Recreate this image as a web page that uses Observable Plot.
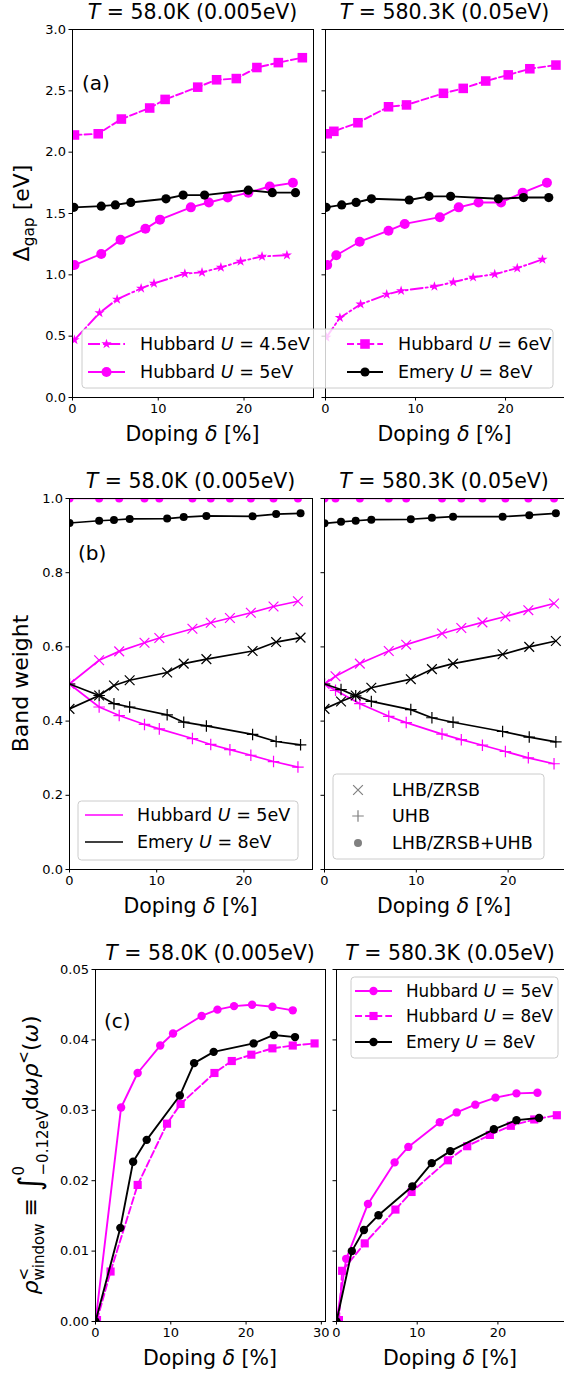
<!DOCTYPE html>
<html><head><meta charset="utf-8">
<script src="https://cdn.jsdelivr.net/npm/d3@7"></script>
<script src="https://cdn.jsdelivr.net/npm/@observablehq/plot@0.6"></script>
<style>
html,body{margin:0;padding:0;background:#fff;overflow:hidden}
#fig{position:relative;width:564px;height:1373px;overflow:hidden;font-family:"DejaVu Sans",sans-serif;background:#fff}
#fig svg{position:absolute;overflow:visible}
#fig text{white-space:pre}
</style></head><body><div id="fig"></div>
<script>
// ---------- DATA ----------
// (a) Gap vs doping, T = 58.0K : [doping %, gap eV]
const gap58_U45 = [[0.23,0.47],[3.15,0.69],[5.2,0.80],[8.0,0.89],[9.5,0.93],[13.1,1.01],[15.1,1.02],[17.3,1.06],[19.6,1.11],[22.1,1.15],[25.0,1.16]];
const gap58_U5  = [[0.23,1.08],[3.35,1.17],[5.6,1.285],[8.5,1.375],[10.2,1.45],[13.8,1.55],[15.9,1.59],[18.1,1.63],[20.5,1.67],[23.0,1.72],[25.7,1.75]];
const gap58_U6  = [[0.23,2.14],[3.0,2.15],[5.7,2.27],[9.0,2.36],[10.8,2.43],[14.6,2.53],[16.8,2.59],[19.1,2.60],[21.5,2.69],[24.0,2.73],[26.8,2.77]];
const gap58_E8  = [[0.16,1.55],[3.35,1.56],[5.0,1.57],[6.8,1.59],[10.9,1.62],[12.9,1.65],[15.4,1.65],[20.5,1.69],[23.3,1.67],[26.0,1.67]];
// (a) T = 580.3K
const gap580_U45 = [[0.1,0.49],[1.6,0.65],[3.9,0.76],[6.8,0.84],[8.4,0.87],[12.1,0.905],[14.2,0.94],[16.4,0.98],[18.8,1.005],[21.3,1.055],[24.1,1.125]];
const gap580_U5  = [[0.19,1.08],[1.2,1.16],[3.8,1.27],[7.0,1.36],[8.8,1.415],[12.7,1.47],[14.8,1.55],[17.0,1.59],[19.5,1.59],[21.9,1.67],[24.6,1.75]];
const gap580_U6  = [[0.19,2.15],[0.93,2.17],[3.6,2.24],[7.0,2.37],[9.0,2.385],[13.1,2.48],[15.3,2.52],[17.8,2.58],[20.3,2.63],[22.7,2.68],[25.6,2.71]];
const gap580_E8  = [[0.07,1.55],[1.8,1.57],[3.4,1.59],[5.1,1.62],[9.3,1.61],[11.5,1.64],[13.9,1.64],[19.2,1.62],[22.0,1.63],[24.8,1.63]];

// (b) Band weights, T = 58.0K
const dopH58 = [0,3.4,5.7,8.6,10.3,14.1,16.2,18.4,20.8,23.4,26.2];
const lhbH58 = [0.50,0.564,0.588,0.611,0.624,0.649,0.665,0.678,0.692,0.709,0.723];
const uhbH58 = [0.50,0.438,0.415,0.391,0.379,0.353,0.337,0.323,0.308,0.291,0.276];
const totH58 = [1,1,1,1,1,1,1,1,1,1,1];
const dopE58 = [0,3.4,5.1,6.9,11.2,13.1,15.7,21.0,23.7,26.5];
const lhbE58 = [0.433,0.469,0.496,0.510,0.531,0.555,0.567,0.589,0.613,0.625];
const uhbE58 = [0.50,0.469,0.447,0.438,0.417,0.397,0.387,0.364,0.345,0.336];
const totE58 = [0.934,0.940,0.942,0.945,0.946,0.950,0.953,0.952,0.958,0.960];
// (b) T = 580.3K
const dopH580 = [0,1.2,3.85,7.0,8.9,12.8,14.9,17.2,19.7,22.2,25.0];
const lhbH580 = [0.50,0.521,0.555,0.589,0.606,0.636,0.651,0.666,0.682,0.699,0.717];
const uhbH580 = [0.50,0.483,0.447,0.413,0.396,0.365,0.350,0.335,0.318,0.301,0.285];
const totH580 = [1,1,1,1,1,1,1,1,1,1,1];
const dopE580 = [0,1.8,3.4,5.1,9.4,11.7,14.0,19.4,22.3,25.2];
const lhbE580 = [0.433,0.453,0.469,0.490,0.513,0.540,0.555,0.580,0.600,0.616];
const uhbE580 = [0.50,0.485,0.468,0.453,0.431,0.409,0.397,0.372,0.357,0.344];
const totE580 = [0.933,0.937,0.940,0.943,0.944,0.948,0.951,0.951,0.955,0.960];

// (c) rho window, T = 58.0K
const rho58_H5 = [[0,0],[3.4,0.0304],[5.6,0.0353],[8.6,0.0392],[10.3,0.0409],[14.1,0.0434],[16.2,0.0443],[18.4,0.0448],[20.8,0.0450],[23.5,0.0447],[26.2,0.0442]];
const rho58_H8 = [[0.2,0.0002],[2.0,0.0071],[5.6,0.0194],[9.5,0.0281],[11.3,0.0309],[15.8,0.0353],[18.1,0.0370],[20.7,0.0379],[23.5,0.0388],[26.2,0.0392],[29.1,0.0395]];
const rho58_E8 = [[0,0],[3.3,0.0133],[5.0,0.0227],[6.8,0.0258],[11.2,0.0321],[13.1,0.0367],[15.7,0.0383],[21.0,0.0395],[23.7,0.0407],[26.5,0.0404]];
// (c) T = 580.3K
const rho580_H5 = [[0,0],[1.2,0.0089],[3.9,0.0167],[7.2,0.0226],[8.9,0.0248],[12.8,0.0283],[14.9,0.0297],[17.2,0.0308],[19.7,0.0318],[22.3,0.0324],[24.9,0.0325]];
const rho580_H8 = [[0.3,0.0002],[0.7,0.0072],[3.5,0.0111],[7.3,0.0159],[9.3,0.0184],[13.8,0.0229],[16.2,0.0249],[19.0,0.0265],[21.6,0.0278],[24.5,0.0287],[27.3,0.0293]];
const rho580_E8 = [[0,0],[1.9,0.0100],[3.4,0.0130],[5.2,0.0151],[9.4,0.0192],[11.8,0.0225],[14.1,0.0242],[19.5,0.0273],[22.3,0.0286],[25.1,0.0289]];

// tick values / labels
const xTicks = [0,10,20];
const xTicksC = [0,10,20,30];
const yTicksA = [0,0.5,1,1.5,2,2.5,3];
const yTicksB = [0,0.2,0.4,0.6,0.8,1.0];
const yTicksC = [0,0.01,0.02,0.03,0.04,0.05];
const titles = ["58.0K (0.005eV)", "580.3K (0.05eV)"];

// ---------- STYLE ----------
const MAG = "#ff00ff", BLK = "#000000";
const DASH = "7,3.1", DASHDOT = "12,3.1,2,3.1";
const X = d => d[0], Y = d => d[1];
const fig = d3.select("#fig");

function series(data, o) {
  const out = [Plot.line(data, {x: X, y: Y, stroke: o.color, strokeWidth: o.lw ?? 1.9, strokeDasharray: o.dash, clip: true})];
  if (o.symbol) {
    const stroked = o.symbol === "times" || o.symbol === "plus";
    out.push(Plot.dot(data, stroked
      ? {x: X, y: Y, symbol: o.symbol, r: o.r, stroke: o.color, strokeWidth: 1.2, clip: true}
      : {x: X, y: Y, symbol: o.symbol, r: o.r, fill: o.color, clip: true}));
  }
  return out;
}

function panel(p) {
  const chart = Plot.plot({
    width: p.width, height: p.height,
    marginLeft: p.ml, marginRight: p.mr, marginTop: p.mt, marginBottom: p.mb,
    style: {fontFamily: "DejaVu Sans", fontSize: "13px", color: "black", background: "transparent", overflow: "visible"},
    x: {domain: [0, p.xmax]},
    y: {domain: p.ydom},
    marks: [
      ...p.marks,
      Plot.frame({stroke: "black", strokeWidth: 1}),
      Plot.axisX({ticks: p.xticks, tickSize: 3.5, tickPadding: 3, label: null, tickFormat: d => String(d)}),
      Plot.axisY({ticks: p.yticks, tickSize: 3.5, tickPadding: 3, label: null, tickFormat: p.showY ? d3.format(p.fmt) : () => ""})
    ]
  });
  chart.style.left = p.left + "px";
  chart.style.top = p.top + "px";
  fig.node().appendChild(chart);
}

// ---------- ROW (a) ----------
function gapMarks(U45, U5, U6, E8) {
  return [
    ...series(U45, {color: MAG, dash: DASHDOT, symbol: "star", r: 3.2}),
    ...series(U5, {color: MAG, symbol: "circle", r: 5}),
    ...series(U6, {color: MAG, dash: DASH, symbol: "square", r: 5.4}),
    ...series(E8, {color: BLK, symbol: "circle", r: 4.6})
  ];
}
panel({left: 0, top: 0, width: 318, height: 430, ml: 72, mr: 5, mt: 29, mb: 33, xmax: 28.1, ydom: [0,3],
  xticks: xTicks, yticks: yTicksA, showY: true, fmt: ".1f", marks: gapMarks(gap58_U45, gap58_U5, gap58_U6, gap58_E8)});
panel({left: 318, top: 0, width: 248, height: 430, ml: 7, mr: 2, mt: 29, mb: 33, xmax: 26.55, ydom: [0,3],
  xticks: xTicks, yticks: yTicksA, showY: false, marks: gapMarks(gap580_U45, gap580_U5, gap580_U6, gap580_E8)});

// ---------- ROW (b) ----------
function weightMarks(dH, lH, uH, tH, dE, lE, uE, tE) {
  const hub = dH.map((x, i) => ({x, l: lH[i], u: uH[i], t: tH[i]}));
  const em = dE.map((x, i) => ({x, l: lE[i], u: uE[i], t: tE[i]}));
  const m = [];
  for (const [tab, c] of [[hub, MAG], [em, BLK]]) {
    for (const [key, sym, r] of [["l", "times", 4.5], ["u", "plus", 3.8], ["t", "circle", 4]]) {
      m.push(...series(tab.map(d => [d.x, d[key]]), {color: c, symbol: sym, r, lw: 1.7}));
    }
  }
  return m;
}
panel({left: 0, top: 470, width: 317, height: 430, ml: 69, mr: 5, mt: 28, mb: 31, xmax: 27.87, ydom: [0,1],
  xticks: xTicks, yticks: yTicksB, showY: true, fmt: ".1f",
  marks: weightMarks(dopH58, lhbH58, uhbH58, totH58, dopE58, lhbE58, uhbE58, totE58)});
panel({left: 317, top: 470, width: 249, height: 430, ml: 7, mr: 2, mt: 28, mb: 31, xmax: 26.14, ydom: [0,1],
  xticks: xTicks, yticks: yTicksB, showY: false,
  marks: weightMarks(dopH580, lhbH580, uhbH580, totH580, dopE580, lhbE580, uhbE580, totE580)});

// ---------- ROW (c) ----------
function rhoMarks(H5, H8, E8) {
  return [
    ...series(H5, {color: MAG, symbol: "circle", r: 4.2}),
    ...series(H8, {color: MAG, dash: DASH, symbol: "square", r: 4.6}),
    ...series(E8, {color: BLK, symbol: "circle", r: 4.2})
  ];
}
panel({left: 0, top: 940, width: 330, height: 420, ml: 95, mr: 5, mt: 29, mb: 39, xmax: 30.55, ydom: [0,0.05],
  xticks: xTicksC, yticks: yTicksC, showY: true, fmt: ".2f", marks: rhoMarks(rho58_H5, rho58_H8, rho58_E8)});
panel({left: 330, top: 940, width: 236, height: 420, ml: 6, mr: 2, mt: 29, mb: 39, xmax: 28.25, ydom: [0,0.05],
  xticks: xTicks, yticks: yTicksC, showY: false, marks: rhoMarks(rho580_H5, rho580_H8, rho580_E8)});

// ---------- OVERLAY: titles, labels, legends ----------
const ov = fig.append("svg").attr("width", 564).attr("height", 1373)
  .style("left", "0px").style("top", "0px").attr("font-family", "DejaVu Sans");

function txt(x, y, parts, o = {}) {
  const t = ov.append("text")
    .attr("transform", `translate(${x},${y}) rotate(${o.rot || 0})`)
    .attr("font-size", o.size || 20).attr("text-anchor", o.anchor || "start").attr("fill", "black");
  if (o.dy) t.attr("dy", o.dy);
  for (const p of parts) {
    const s = t.append("tspan").text(p.t);
    if (p.i) s.attr("font-style", "italic");
    if (p.fs) s.attr("font-size", p.fs);
    if (p.dx) s.attr("dx", p.dx);
    if (p.dy) s.attr("dy", p.dy);
  }
  return t;
}

// titles
const titleY = [18.5, 488, 959.5];
const titleX = [[192.5, 444.5], [190.5, 444], [210, 450]];
titleY.forEach((y, r) => titleX[r].forEach((x, c) =>
  txt(x, y, [{t: "T", i: true}, {t: " = " + titles[c]}], {anchor: "middle", size: 20.5})));

// x labels
const xlabY = [441, 913, 1365];
xlabY.forEach((y, r) => titleX[r].forEach(x =>
  txt(x, y, [{t: "Doping "}, {t: "δ", i: true}, {t: " [%]"}], {anchor: "middle", size: 20.5})));

// y labels
txt(28.5, 213, [{t: "Δ"}, {t: "gap", fs: 15.4, dy: 5}, {t: " [eV]", dy: -5}], {anchor: "middle", size: 22, rot: -90});
txt(28, 683.5, [{t: "Band weight"}], {anchor: "middle", size: 22, rot: -90});
txt(38, 1155, [
  {t: "ρ", i: true}, {t: "<", fs: 15, dy: -9}, {t: "window", fs: 15, dx: -12.5, dy: 15},
  {t: " ≡ ", dy: -6}, {t: "∫", fs: 30, dy: 2},
  {t: "0", fs: 15, dy: -16}, {t: "−0.12eV", fs: 15, dx: -9.5, dy: 24},
  {t: "d", dy: -10}, {t: "ωρ", i: true}, {t: "<", fs: 15, dy: -9}, {t: "(", dy: 9}, {t: "ω", i: true}, {t: ")"}
], {anchor: "middle", size: 22, rot: -90});

// panel letters
txt(82, 90, [{t: "(a)"}], {size: 20});
txt(78, 560, [{t: "(b)"}], {size: 20});
txt(104, 1028, [{t: "(c)"}], {size: 20});

// legends
function box(x0, y0, x1, y1) {
  ov.append("rect").attr("x", x0).attr("y", y0).attr("width", x1 - x0).attr("height", y1 - y0)
    .attr("rx", 3.5).attr("fill", "white").attr("fill-opacity", 0.8).attr("stroke", "#cccccc").attr("stroke-width", 1);
}
const symMap = {circle: d3.symbolCircle, square: d3.symbolSquare, star: d3.symbolStar, times: d3.symbolTimes, plus: d3.symbolPlus};
function marker(x, y, sym, r, color) {
  const stroked = sym === "times" || sym === "plus";
  ov.append("path").attr("transform", `translate(${x},${y})`)
    .attr("d", d3.symbol(symMap[sym], Math.PI * r * r)())
    .attr("fill", stroked ? "none" : color).attr("stroke", stroked ? color : "none").attr("stroke-width", 1.2);
}
function handle(x0, x1, y, color, dash, sym, r, lw = 1.9) {
  const l = ov.append("line").attr("x1", x0).attr("x2", x1).attr("y1", y).attr("y2", y)
    .attr("stroke", color).attr("stroke-width", lw);
  if (dash) l.attr("stroke-dasharray", dash);
  if (sym) marker((x0 + x1) / 2, y, sym, r, color);
}
function label(x, y, name, u, size) {
  txt(x, y, [{t: name + " "}, {t: "U", i: true}, {t: " = " + u + "eV"}], {size, dy: "0.36em"});
}
// (a) two-column legend
box(82, 329, 553, 388);
handle(88, 125, 344, MAG, DASHDOT, "star", 3.2); label(140, 344, "Hubbard", "4.5", 17.5);
handle(88, 125, 372, MAG, null, "circle", 5); label(140, 372, "Hubbard", "5", 17.5);
handle(347, 383, 344, MAG, DASH, "square", 5.4); label(398, 344, "Hubbard", "6", 17.5);
handle(347, 383, 372, BLK, null, "circle", 4.6); label(398, 372, "Emery", "8", 17.5);
// (b) left legend
box(78, 801, 298, 860);
handle(85, 123, 815, MAG, null, null, 0, 1.7); label(137, 815, "Hubbard", "5", 17.5);
handle(85, 123, 842, BLK, null, null, 0, 1.7); label(137, 842, "Emery", "8", 17.5);
// (b) right legend
box(333, 774, 544, 859);
marker(358, 790, "times", 4.5, "#808080"); txt(392, 790, [{t: "LHB/ZRSB"}], {size: 17.5, dy: "0.36em"});
marker(358, 816, "plus", 3.8, "#808080"); txt(392, 816, [{t: "UHB"}], {size: 17.5, dy: "0.36em"});
marker(358, 843, "circle", 4, "#808080"); txt(392, 843, [{t: "LHB/ZRSB+UHB"}], {size: 17.5, dy: "0.36em"});
// (c) legend
box(351, 977, 558, 1058);
handle(355, 392, 991, MAG, null, "circle", 4.2); label(406, 991, "Hubbard", "5", 16.8);
handle(355, 392, 1016, MAG, DASH, "square", 4.6); label(406, 1016, "Hubbard", "8", 16.8);
handle(355, 392, 1042, BLK, null, "circle", 4.2); label(406, 1042, "Emery", "8", 16.8);
</script></body></html>
